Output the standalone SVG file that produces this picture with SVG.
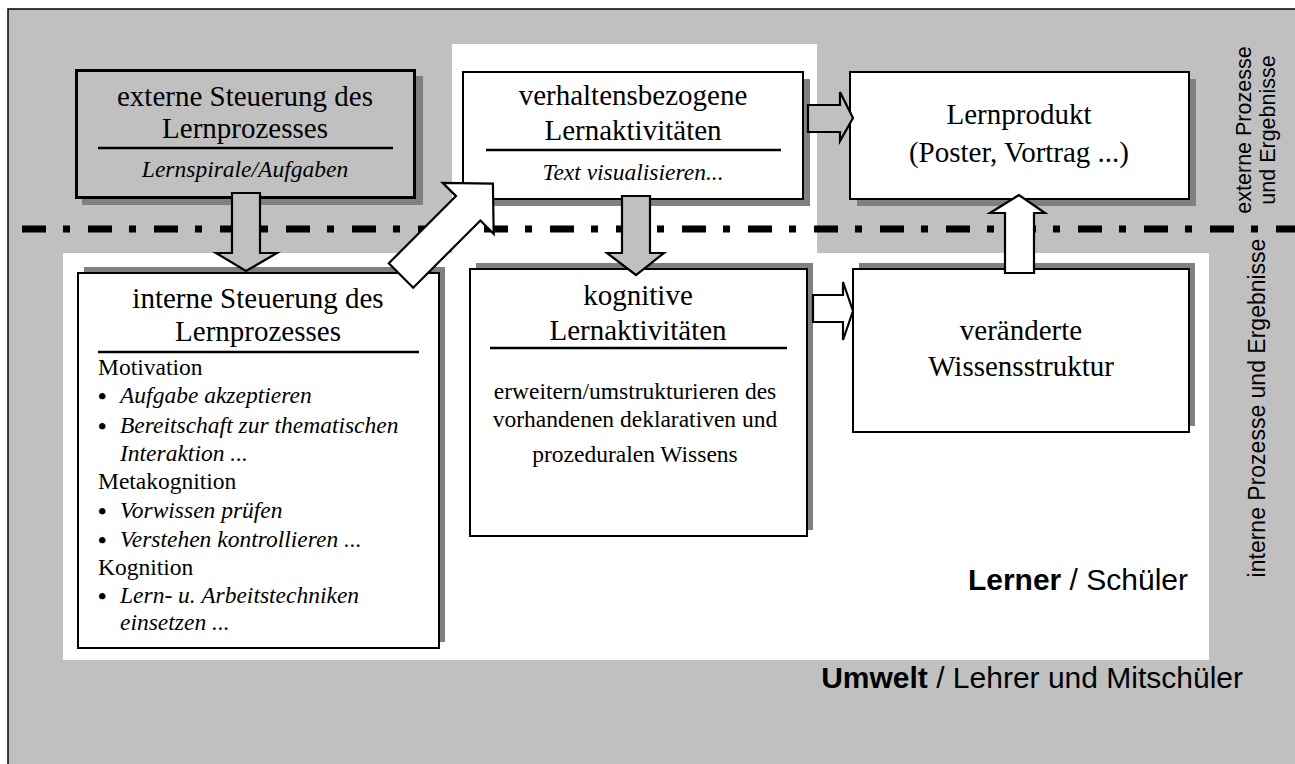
<svg xmlns="http://www.w3.org/2000/svg" width="1295" height="764" viewBox="0 0 1295 764">
<style>
.t{font-family:"Liberation Serif","Times New Roman",serif;font-size:29px;fill:#000;text-anchor:middle}
.i{font-family:"Liberation Serif","Times New Roman",serif;font-size:23.5px;font-style:italic;fill:#000}
.r{font-family:"Liberation Serif","Times New Roman",serif;font-size:23.5px;fill:#000}
.b{font-family:"Liberation Serif","Times New Roman",serif;font-size:24px;font-weight:bold;fill:#000}
.s{font-family:"Liberation Sans",Arial,sans-serif;fill:#000}
.box{fill:#fff;stroke:#000;stroke-width:2}
.sh{fill:#808080}
.ul{stroke:#000;stroke-width:2.5}
.ag{fill:#c0c0c0;stroke:#000;stroke-width:2.2;stroke-linejoin:miter}
.aw{fill:#fff;stroke:#000;stroke-width:2.2;stroke-linejoin:miter}
</style>
<rect x="0" y="0" width="1295" height="764" fill="#fff"/>
<rect x="8" y="9" width="1300" height="800" fill="#c0c0c0" stroke="#000" stroke-width="1.5"/>
<polygon points="63,253 452,253 452,44 817,44 817,253 1209,253 1209,660 63,660" fill="#fff"/>
<line x1="22" y1="229" x2="1300" y2="229" stroke="#000" stroke-width="7" stroke-dasharray="24,17,7,18"/>

<g id="externe">
<rect class="sh" x="82" y="76" width="341" height="129"/>
<rect x="76.5" y="70.5" width="338" height="127" fill="#c0c0c0" stroke="#000" stroke-width="3"/>
<text class="t" x="245" y="106">externe Steuerung des</text>
<text class="t" x="245" y="138">Lernprozesses</text>
<line class="ul" x1="98" y1="148" x2="393" y2="148"/>
<text class="i" x="245" y="177" text-anchor="middle">Lernspirale/Aufgaben</text>
</g>

<g id="verhalten">
<rect class="sh" x="470" y="79" width="340" height="127"/>
<rect class="box" x="463" y="72" width="340" height="127"/>
<text class="t" x="633" y="105">verhaltensbezogene</text>
<text class="t" x="633" y="140">Lernaktivitäten</text>
<line class="ul" x1="486" y1="150" x2="781" y2="150"/>
<text class="i" x="633" y="180" text-anchor="middle">Text visualisieren...</text>
</g>

<g id="lernprodukt">
<rect class="sh" x="857" y="79" width="339" height="127"/>
<rect class="box" x="850" y="72" width="339" height="127"/>
<text class="t" x="1019" y="124">Lernprodukt</text>
<text class="t" x="1019" y="162">(Poster, Vortrag ...)</text>
</g>

<g id="interne">
<rect class="sh" x="84" y="267" width="361" height="375"/>
<rect class="box" x="78" y="273" width="361" height="375"/>
<text class="t" x="258" y="308">interne Steuerung des</text>
<text class="t" x="258" y="341">Lernprozesses</text>
<line class="ul" x1="98" y1="352" x2="419" y2="352"/>
<text class="r" x="98" y="375">Motivation</text>
<text class="b" x="98" y="404">•</text><text class="i" x="120" y="403">Aufgabe akzeptieren</text>
<text class="b" x="98" y="434">•</text><text class="i" x="120" y="433">Bereitschaft zur thematischen</text>
<text class="i" x="120" y="461">Interaktion ...</text>
<text class="r" x="98" y="489">Metakognition</text>
<text class="b" x="98" y="519">•</text><text class="i" x="120" y="518">Vorwissen prüfen</text>
<text class="b" x="98" y="548">•</text><text class="i" x="120" y="547">Verstehen kontrollieren ...</text>
<text class="r" x="98" y="575">Kognition</text>
<text class="b" x="98" y="604">•</text><text class="i" x="120" y="603">Lern- u. Arbeitstechniken</text>
<text class="i" x="120" y="630">einsetzen ...</text>
</g>

<g id="kognitive">
<rect class="sh" x="476" y="263" width="337" height="267"/>
<rect class="box" x="470" y="269" width="337" height="267"/>
<text class="t" x="638" y="305">kognitive</text>
<text class="t" x="638" y="340">Lernaktivitäten</text>
<line class="ul" x1="490" y1="348" x2="787" y2="348"/>
<text class="r" x="635" y="399" text-anchor="middle">erweitern/umstrukturieren des</text>
<text class="r" x="635" y="427" text-anchor="middle">vorhandenen deklarativen und</text>
<text class="r" x="635" y="462" text-anchor="middle">prozeduralen Wissens</text>
</g>

<g id="veraenderte">
<rect class="sh" x="859" y="263" width="336" height="163"/>
<rect class="box" x="853" y="269" width="336" height="163"/>
<text class="t" x="1021" y="340">veränderte</text>
<text class="t" x="1021" y="376">Wissensstruktur</text>
</g>

<g id="connectors">
<polygon class="ag" points="232,193 260,193 260,253 277,253 246,271 216,253 232,253"/>
<polygon class="ag" points="622,196 650,196 650,253 664,253 636,275 607,253 622,253"/>
<polygon class="ag" points="808,105 840,105 840,92 853,118 840,141 840,132 808,132"/>
<polygon class="aw" points="813,295 843,295 843,282 853,311 843,340 843,322 813,322"/>
<polygon class="aw" points="1005,273 1034,273 1034,213 1045,213 1019,195 990,213 1005,213"/>
<polygon class="aw" points="388.8,263.3 456,196.1 442.7,182.8 492.9,183.6 493.7,233.8 480.4,220.5 413.2,287.7"/>
</g>

<g id="labels">
<text class="s" font-size="21.5" text-anchor="middle" transform="translate(1251,130) rotate(-90)">externe Prozesse</text>
<text class="s" font-size="21.5" text-anchor="middle" transform="translate(1275,130) rotate(-90)">und  Ergebnisse</text>
<text class="s" font-size="23" text-anchor="middle" transform="translate(1265,408) rotate(-90)">interne Prozesse und Ergebnisse</text>
<text class="s" font-size="30" x="1188" y="590" text-anchor="end"><tspan font-weight="bold">Lerner</tspan> / Schüler</text>
<text class="s" font-size="30" x="1243" y="688" text-anchor="end"><tspan font-weight="bold">Umwelt</tspan> / Lehrer und Mitschüler</text>
</g>
</svg>
